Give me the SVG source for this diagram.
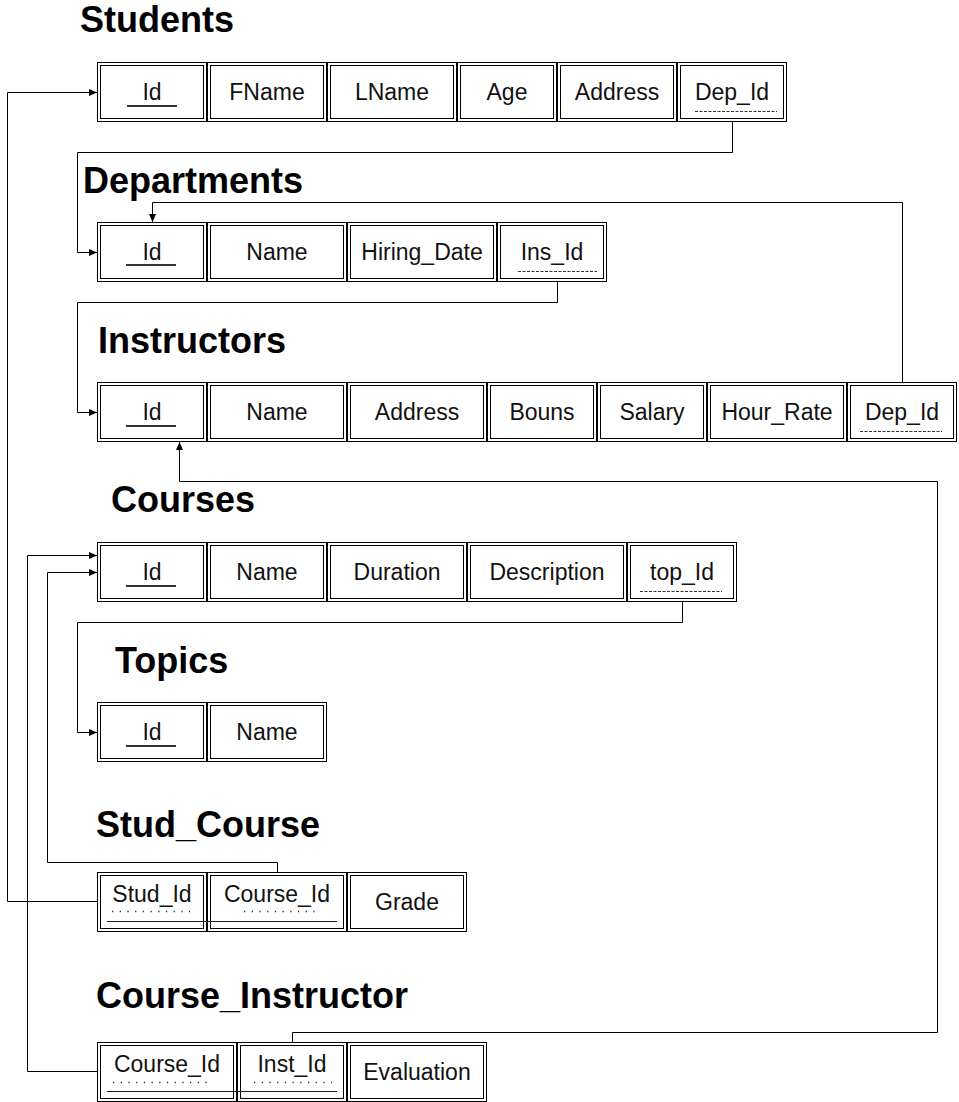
<svg xmlns="http://www.w3.org/2000/svg" width="959" height="1102" viewBox="0 0 959 1102">
<style>
.bg{fill:#fff}
.o,.i{fill:none;stroke:#000;stroke-width:1}
.t{font-family:"Liberation Sans",Arial,sans-serif;font-size:23px;fill:#111;text-anchor:middle}
.h{font-family:"Liberation Sans",Arial,sans-serif;font-size:36px;font-weight:bold;fill:#000}
.pk{stroke:#333;stroke-width:2}
.fk{stroke:#333;stroke-width:1;stroke-dasharray:3 1.5}
.dot{stroke:#333;stroke-width:1.3;stroke-dasharray:1.3 6.4}
.cpk{stroke:#222;stroke-width:1}
.c{fill:none;stroke:#000;stroke-width:1}
</style>
<defs>
<marker id="arr" markerUnits="userSpaceOnUse" markerWidth="9" markerHeight="8" refX="8" refY="3.5" orient="auto">
<path d="M0,0 L8,3.5 L0,7 z" fill="#000"/>
</marker>
</defs>
<rect class="bg" x="0" y="0" width="959" height="1102"/>

<g id="connectors">
<path class="c" d="M732.5,122 V152.5 H77.5 V252.5 H97" marker-end="url(#arr)"/>
<path class="c" d="M97,901.5 H7.5 V92.5 H97" marker-end="url(#arr)"/>
<path class="c" d="M902.5,382 V202.5 H152.5 V222" marker-end="url(#arr)"/>
<path class="c" d="M557.5,282 V302.5 H77.5 V412.5 H97" marker-end="url(#arr)"/>
<path class="c" d="M292.5,1042 V1032.5 H937.5 V481.5 H179.5 V442" marker-end="url(#arr)"/>
<path class="c" d="M682.5,602 V622.5 H77.5 V732.5 H97" marker-end="url(#arr)"/>
<path class="c" d="M277.5,872 V862.5 H47.5 V572.5 H97" marker-end="url(#arr)"/>
<path class="c" d="M97,1071.5 H27.5 V555.5 H97" marker-end="url(#arr)"/>
</g>

<g id="students">
<text class="h" x="80" y="32">Students</text>
<rect class="o" x="97.5" y="62.5" width="109" height="59"/><rect class="i" x="100.5" y="65.5" width="103" height="53"/>
<rect class="o" x="207.5" y="62.5" width="119" height="59"/><rect class="i" x="210.5" y="65.5" width="113" height="53"/>
<rect class="o" x="327.5" y="62.5" width="129" height="59"/><rect class="i" x="330.5" y="65.5" width="123" height="53"/>
<rect class="o" x="457.5" y="62.5" width="99" height="59"/><rect class="i" x="460.5" y="65.5" width="93" height="53"/>
<rect class="o" x="557.5" y="62.5" width="119" height="59"/><rect class="i" x="560.5" y="65.5" width="113" height="53"/>
<rect class="o" x="677.5" y="62.5" width="109" height="59"/><rect class="i" x="680.5" y="65.5" width="103" height="53"/>
<text class="t" x="152" y="100">Id</text>
<text class="t" x="267" y="100">FName</text>
<text class="t" x="392" y="100">LName</text>
<text class="t" x="507" y="100">Age</text>
<text class="t" x="617" y="100">Address</text>
<text class="t" x="732" y="100">Dep_Id</text>
<line class="pk" x1="127" y1="106" x2="177" y2="106"/>
<line class="fk" x1="695" y1="111.5" x2="777" y2="111.5"/>
</g>

<g id="departments">
<text class="h" x="83" y="193">Departments</text>
<rect class="o" x="97.5" y="222.5" width="109" height="59"/><rect class="i" x="100.5" y="225.5" width="103" height="53"/>
<rect class="o" x="207.5" y="222.5" width="139" height="59"/><rect class="i" x="210.5" y="225.5" width="133" height="53"/>
<rect class="o" x="347.5" y="222.5" width="149" height="59"/><rect class="i" x="350.5" y="225.5" width="143" height="53"/>
<rect class="o" x="497.5" y="222.5" width="109" height="59"/><rect class="i" x="500.5" y="225.5" width="103" height="53"/>
<text class="t" x="152" y="260">Id</text>
<text class="t" x="277" y="260">Name</text>
<text class="t" x="422" y="260">Hiring_Date</text>
<text class="t" x="552" y="260">Ins_Id</text>
<line class="pk" x1="126" y1="265" x2="176" y2="265"/>
<line class="fk" x1="518" y1="271.5" x2="597" y2="271.5"/>
</g>

<g id="instructors">
<text class="h" x="98" y="353">Instructors</text>
<rect class="o" x="97.5" y="382.5" width="109" height="59"/><rect class="i" x="100.5" y="385.5" width="103" height="53"/>
<rect class="o" x="207.5" y="382.5" width="139" height="59"/><rect class="i" x="210.5" y="385.5" width="133" height="53"/>
<rect class="o" x="347.5" y="382.5" width="139" height="59"/><rect class="i" x="350.5" y="385.5" width="133" height="53"/>
<rect class="o" x="487.5" y="382.5" width="109" height="59"/><rect class="i" x="490.5" y="385.5" width="103" height="53"/>
<rect class="o" x="597.5" y="382.5" width="109" height="59"/><rect class="i" x="600.5" y="385.5" width="103" height="53"/>
<rect class="o" x="707.5" y="382.5" width="139" height="59"/><rect class="i" x="710.5" y="385.5" width="133" height="53"/>
<rect class="o" x="847.5" y="382.5" width="109" height="59"/><rect class="i" x="850.5" y="385.5" width="103" height="53"/>
<text class="t" x="152" y="420">Id</text>
<text class="t" x="277" y="420">Name</text>
<text class="t" x="417" y="420">Address</text>
<text class="t" x="542" y="420">Bouns</text>
<text class="t" x="652" y="420">Salary</text>
<text class="t" x="777" y="420">Hour_Rate</text>
<text class="t" x="902" y="420">Dep_Id</text>
<line class="pk" x1="126" y1="426" x2="176" y2="426"/>
<line class="fk" x1="860" y1="431.5" x2="942" y2="431.5"/>
</g>

<g id="courses">
<text class="h" x="111" y="512">Courses</text>
<rect class="o" x="97.5" y="542.5" width="109" height="59"/><rect class="i" x="100.5" y="545.5" width="103" height="53"/>
<rect class="o" x="207.5" y="542.5" width="119" height="59"/><rect class="i" x="210.5" y="545.5" width="113" height="53"/>
<rect class="o" x="327.5" y="542.5" width="139" height="59"/><rect class="i" x="330.5" y="545.5" width="133" height="53"/>
<rect class="o" x="467.5" y="542.5" width="159" height="59"/><rect class="i" x="470.5" y="545.5" width="153" height="53"/>
<rect class="o" x="627.5" y="542.5" width="109" height="59"/><rect class="i" x="630.5" y="545.5" width="103" height="53"/>
<text class="t" x="152" y="580">Id</text>
<text class="t" x="267" y="580">Name</text>
<text class="t" x="397" y="580">Duration</text>
<text class="t" x="547" y="580">Description</text>
<text class="t" x="682" y="580">top_Id</text>
<line class="pk" x1="126" y1="586" x2="176" y2="586"/>
<line class="fk" x1="640" y1="591.5" x2="722" y2="591.5"/>
</g>

<g id="topics">
<text class="h" x="115" y="673">Topics</text>
<rect class="o" x="97.5" y="702.5" width="109" height="59"/><rect class="i" x="100.5" y="705.5" width="103" height="53"/>
<rect class="o" x="207.5" y="702.5" width="119" height="59"/><rect class="i" x="210.5" y="705.5" width="113" height="53"/>
<text class="t" x="152" y="740">Id</text>
<text class="t" x="267" y="740">Name</text>
<line class="pk" x1="126" y1="746" x2="176" y2="746"/>
</g>

<g id="stud_course">
<text class="h" x="96" y="837">Stud_Course</text>
<rect class="o" x="97.5" y="872.5" width="109" height="59"/><rect class="i" x="100.5" y="875.5" width="103" height="53"/>
<rect class="o" x="207.5" y="872.5" width="139" height="59"/><rect class="i" x="210.5" y="875.5" width="133" height="53"/>
<rect class="o" x="347.5" y="872.5" width="119" height="59"/><rect class="i" x="350.5" y="875.5" width="113" height="53"/>
<text class="t" x="152" y="902">Stud_Id</text>
<text class="t" x="277" y="902">Course_Id</text>
<text class="t" x="407" y="910">Grade</text>
<line class="dot" x1="112" y1="911.5" x2="190" y2="911.5"/>
<line class="dot" x1="244" y1="911.5" x2="320" y2="911.5"/>
<line class="cpk" x1="107" y1="921.5" x2="337" y2="921.5"/>
</g>

<g id="course_instructor">
<text class="h" x="96" y="1008">Course_Instructor</text>
<rect class="o" x="97.5" y="1042.5" width="139" height="59"/><rect class="i" x="100.5" y="1045.5" width="133" height="53"/>
<rect class="o" x="237.5" y="1042.5" width="109" height="59"/><rect class="i" x="240.5" y="1045.5" width="103" height="53"/>
<rect class="o" x="347.5" y="1042.5" width="139" height="59"/><rect class="i" x="350.5" y="1045.5" width="133" height="53"/>
<text class="t" x="167" y="1072">Course_Id</text>
<text class="t" x="292" y="1072">Inst_Id</text>
<text class="t" x="417" y="1080">Evaluation</text>
<line class="dot" x1="113" y1="1082.5" x2="213" y2="1082.5"/>
<line class="dot" x1="254" y1="1082.5" x2="332" y2="1082.5"/>
<line class="cpk" x1="107" y1="1091.5" x2="337" y2="1091.5"/>
</g>
</svg>
